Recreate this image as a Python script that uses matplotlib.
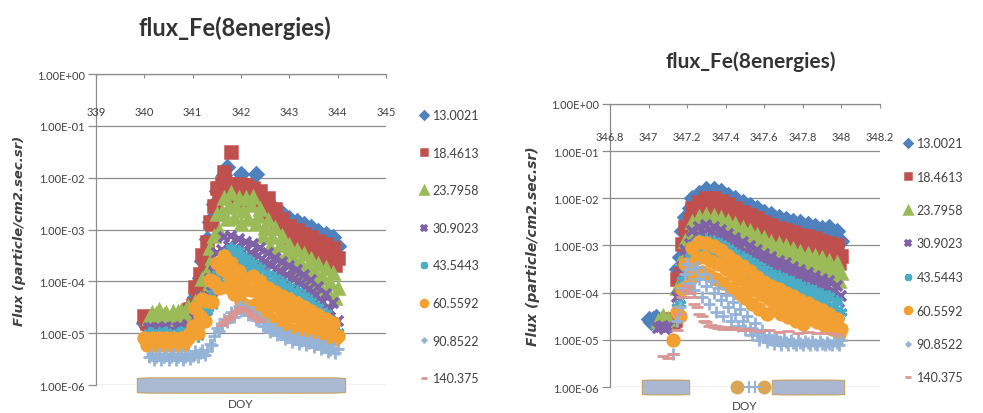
import numpy as np
import matplotlib
matplotlib.use('Agg')
import matplotlib.pyplot as plt
from matplotlib.transforms import blended_transform_factory

NA = np.nan

# energy channels shown in the legend
energies = ['13.0021', '18.4613', '23.7958', '30.9023', '43.5443', '60.5592', '90.8522', '140.375']

# ---- event 1 : DOY 340 - 344, log10 flux per channel ----
doy_left = [340.0, 340.05, 340.1, 340.15, 340.2, 340.25, 340.3, 340.35, 340.4, 340.45,
            340.5, 340.55, 340.6, 340.65, 340.7, 340.75, 340.8, 340.85, 340.9, 340.95,
            341.0, 341.05, 341.1, 341.15, 341.2, 341.25, 341.3, 341.35, 341.4, 341.45,
            341.5, 341.55, 341.6, 341.65, 341.7, 341.75, 341.8, 341.85, 341.9, 341.95,
            342.0, 342.05, 342.1, 342.15, 342.2, 342.25, 342.3, 342.35, 342.4, 342.45,
            342.5, 342.55, 342.6, 342.65, 342.7, 342.75, 342.8, 342.85, 342.9, 342.95,
            343.0, 343.05, 343.1, 343.15, 343.2, 343.25, 343.3, 343.35, 343.4, 343.45,
            343.5, 343.55, 343.6, 343.65, 343.7, 343.75, 343.8, 343.85, 343.9, 343.95,
            344.0]

left_13 = [-4.8, -4.88, -4.84, -4.83, -4.93, -4.87, -4.8, -4.88, -4.84, -4.83,
           -4.93, -4.87, -4.8, -4.88, -4.84, -4.78, -4.83, -4.76, -4.7, -4.68,
           -4.59, -4.3, -4.28, -3.94, -3.6, -3.53, -3.19, -2.85, -2.78, -2.51,
           -2.25, -2.3, -2.09, -1.95, -1.8, -2.24, -2.15, -2.33, -2.24, -2.15,
           -1.93, -2.24, -2.15, -2.38, -2.29, -2.2, -1.93, -2.39, -2.35, -2.58,
           -2.54, -2.5, -2.73, -2.67, -2.6, -2.81, -2.74, -2.68, -2.88, -2.83,
           -2.78, -2.98, -2.91, -2.84, -3.04, -2.97, -2.9, -3.1, -3.03, -2.96,
           -3.16, -3.09, -3.02, -3.22, -3.15, -3.08, -3.28, -3.21, -3.15, -3.36,
           -3.31]
left_18 = [-4.67, -4.81, -4.8, -4.78, -4.9, -4.81, -4.72, -4.85, -4.83, -4.74,
           -4.8, -4.8, -4.8, -4.88, -4.8, -4.74, -4.82, -4.69, -4.55, -4.53,
           -4.45, -4.1, -4.2, -3.85, -3.5, -3.6, -3.25, -2.85, -2.9, -2.55,
           -2.2, -2.38, -2.1, -1.9, -2.15, -2.12, -1.5, -2.4, -2.25, -2.12,
           -2.45, -2.3, -2.15, -2.48, -2.35, -2.2, -2.5, -2.37, -2.25, -2.58,
           -2.45, -2.4, -2.8, -2.7, -2.6, -2.98, -2.9, -2.8, -3.15, -3.04,
           -2.93, -3.26, -3.13, -3.0, -3.33, -3.2, -3.08, -3.4, -3.28, -3.15,
           -3.48, -3.35, -3.22, -3.54, -3.41, -3.28, -3.6, -3.48, -3.35, -3.68,
           -3.55]
left_23 = [NA, NA, -4.7, -4.62, -4.7, -4.63, -4.55, -4.68, -4.65, -4.62,
           -4.75, -4.67, -4.6, -4.68, -4.6, -4.58, -4.7, -4.6, -4.5, -4.6,
           -4.72, -4.4, -4.75, -4.34, -3.95, -4.23, -3.82, -3.35, -3.55, -3.12,
           -2.7, -3.03, -2.67, -2.4, -2.8, -2.54, -2.3, -2.77, -2.57, -2.4,
           -2.9, -2.64, -2.4, -2.8, -2.52, -2.38, -2.9, -2.74, -2.6, -3.13,
           -2.97, -2.82, -3.33, -3.15, -2.98, -3.48, -3.3, -3.13, -3.63, -3.46,
           -3.3, -3.78, -3.58, -3.39, -3.87, -3.67, -3.48, -3.96, -3.76, -3.57,
           -4.05, -3.85, -3.66, -4.14, -3.94, -3.75, -4.23, -4.03, -3.84, -4.32,
           -4.12]
left_30 = [NA, NA, -4.9, -4.9, -5.05, -4.97, -4.9, -4.98, -4.9, -4.88,
           -5.0, -4.97, -4.95, -5.0, -4.9, -4.88, -5.0, -4.93, -4.85, -4.92,
           -5.0, -4.7, -5.0, -4.65, -4.3, -4.6, -4.3, -3.95, -4.2, -3.82,
           -3.45, -3.72, -3.4, -3.15, -3.5, -3.31, -3.12, -3.53, -3.35, -3.18,
           -3.6, -3.42, -3.25, -3.65, -3.45, -3.28, -3.7, -3.52, -3.35, -3.78,
           -3.62, -3.45, -3.88, -3.71, -3.54, -3.97, -3.8, -3.62, -4.05, -3.88,
           -3.7, -4.13, -3.96, -3.79, -4.22, -4.05, -3.88, -4.32, -4.15, -3.98,
           -4.42, -4.26, -4.1, -4.55, -4.4, -4.25, -4.7, -4.56, -4.42, -4.9,
           -4.77]
left_43 = [NA, NA, -5.0, -5.0, -5.15, -5.07, -5.0, -5.08, -5.0, -4.98,
           -5.1, -5.07, -5.05, -5.1, -5.0, -4.98, -5.1, -5.03, -4.95, -5.02,
           -5.02, -4.85, -5.05, -4.82, -4.6, -4.77, -4.57, -4.32, -4.45, -4.14,
           -3.85, -3.95, -3.67, -3.48, -3.65, -3.5, -3.35, -3.63, -3.52, -3.42,
           -3.7, -3.62, -3.55, -3.83, -3.72, -3.64, -3.93, -3.84, -3.75, -4.03,
           -3.94, -3.85, -4.13, -4.03, -3.94, -4.22, -4.12, -4.02, -4.3, -4.2,
           -4.1, -4.38, -4.28, -4.19, -4.47, -4.37, -4.28, -4.57, -4.47, -4.38,
           -4.67, -4.58, -4.5, -4.79, -4.7, -4.62, -4.91, -4.83, -4.76, -5.06,
           -4.98]
left_60 = [-5.1, -5.22, -5.16, -5.1, -5.22, -5.16, -5.1, -5.22, -5.16, -5.1,
           -5.22, -5.16, -5.1, -5.22, -5.16, -5.1, -5.22, -5.16, -5.1, -5.0,
           -4.87, -4.52, -5.0, -4.67, -4.35, -4.77, -4.37, -3.98, -4.4, -4.02,
           -3.65, -4.13, -3.77, -3.52, -4.1, -3.87, -3.65, -4.25, -4.02, -3.8,
           -4.4, -4.17, -3.95, -4.47, -4.17, -3.89, -4.43, -4.21, -4.0, -4.6,
           -4.37, -4.12, -4.7, -4.45, -4.2, -4.77, -4.52, -4.28, -4.85, -4.59,
           -4.35, -4.93, -4.67, -4.42, -5.0, -4.75, -4.5, -5.05, -4.82, -4.58,
           -5.1, -4.89, -4.65, -5.12, -4.95, -4.72, -5.12, -4.98, -4.8, -5.12,
           -5.05]
left_90 = [NA, NA, -5.46, -5.4, -5.52, -5.46, -5.4, -5.52, -5.46, -5.4,
           -5.52, -5.46, -5.4, -5.52, -5.46, -5.4, -5.52, -5.46, -5.4, -5.5,
           -5.44, -5.35, -5.45, -5.39, -5.33, -5.42, -5.34, -5.2, -5.22, -5.06,
           -4.9, -4.96, -4.84, -4.72, -4.79, -4.7, -4.6, -4.68, -4.58, -4.48,
           -4.57, -4.54, -4.5, -4.65, -4.63, -4.6, -4.75, -4.73, -4.7, -4.87,
           -4.86, -4.82, -4.97, -4.94, -4.9, -5.04, -5.01, -4.98, -5.12, -5.08,
           -5.04, -5.17, -5.12, -5.07, -5.2, -5.15, -5.1, -5.23, -5.18, -5.13,
           -5.26, -5.21, -5.16, -5.3, -5.26, -5.22, -5.36, -5.32, -5.28, -5.39,
           -5.31]
left_140 = [NA, NA, NA, NA, NA, NA, NA, NA, NA, NA,
            NA, NA, NA, NA, NA, NA, NA, NA, NA, NA,
            NA, NA, NA, NA, NA, NA, NA, NA, NA, NA,
            NA, NA, -4.85, -4.78, -4.75, -4.7, -4.66, -4.62, -4.58, -4.54,
            -4.5, -4.53, -4.56, -4.6, -4.63, -4.66, -4.7, -4.73, -4.77, NA,
            NA, NA, NA, NA, NA, NA, NA, NA, NA, NA,
            NA, NA, NA, NA, NA, NA, NA, NA, NA, NA,
            NA, NA, NA, NA, NA, NA, NA, NA, NA, NA,
            NA]

# ---- event 2 : DOY 347 - 348, log10 flux per channel ----
doy_right = [347.0, 347.0125, 347.025, 347.0375, 347.05, 347.0625, 347.075, 347.0875, 347.1, 347.1125,
             347.125, 347.1375, 347.15, 347.1625, 347.175, 347.1875, 347.2, 347.2125, 347.225, 347.2375,
             347.25, 347.2625, 347.275, 347.2875, 347.3, 347.3125, 347.325, 347.3375, 347.35, 347.3625,
             347.375, 347.3875, 347.4, 347.4125, 347.425, 347.4375, 347.45, 347.4625, 347.475, 347.4875,
             347.5, 347.5125, 347.525, 347.5375, 347.55, 347.5625, 347.575, 347.5875, 347.6, 347.6125,
             347.625, 347.6375, 347.65, 347.6625, 347.675, 347.6875, 347.7, 347.7125, 347.725, 347.7375,
             347.75, 347.7625, 347.775, 347.7875, 347.8, 347.8125, 347.825, 347.8375, 347.85, 347.8625,
             347.875, 347.8875, 347.9, 347.9125, 347.925, 347.9375, 347.95, 347.9625, 347.975, 347.9875,
             348.0]

right_13 = [-4.55, -4.62, -4.55, -4.52, -4.65, NA, NA, NA, NA, NA,
            NA, NA, -3.5, -3.25, -2.7, -2.4, -2.4, -2.2, -2.0, -2.15,
            -2.0, -1.88, -2.05, -1.92, -1.8, -2.0, -1.89, -1.8, -2.0, -1.92,
            -1.85, -2.08, -2.0, -1.92, -2.15, -2.08, -2.0, -2.22, -2.15, -2.08,
            -2.3, -2.22, -2.15, -2.38, -2.3, -2.21, -2.42, -2.35, -2.28, -2.5,
            -2.42, -2.33, -2.55, -2.48, -2.4, -2.61, -2.52, -2.43, -2.65, -2.57,
            -2.48, -2.69, -2.6, -2.51, -2.72, -2.63, -2.55, -2.76, -2.67, -2.58,
            -2.8, -2.71, -2.62, -2.81, -2.7, -2.6, -2.8, -2.75, -2.7, -2.95,
            -2.9]
right_18 = [NA, NA, NA, NA, NA, NA, NA, NA, -4.6, -4.55,
            -4.62, -4.57, -3.7, -3.6, -2.97, -2.6, -2.75, -2.47, -2.2, -2.5,
            -2.27, -2.08, -2.4, -2.19, -2.0, -2.35, -2.17, -2.0, -2.35, -2.19,
            -2.05, -2.43, -2.27, -2.12, -2.5, -2.35, -2.2, -2.57, -2.42, -2.28,
            -2.65, -2.49, -2.35, -2.73, -2.57, -2.42, -2.8, -2.65, -2.5, -2.87,
            -2.72, -2.56, -2.93, -2.77, -2.62, -2.99, -2.82, -2.68, -3.05, -2.88,
            -2.72, -3.09, -2.92, -2.77, -3.13, -2.96, -2.8, -3.17, -3.0, -2.85,
            -3.21, -3.05, -2.9, -3.26, -3.09, -2.94, -3.3, -3.15, -3.0, -3.37,
            -3.22]
right_23 = [NA, NA, NA, NA, -4.6, -4.55, -4.5, -4.6, -4.55, NA,
            NA, NA, -3.9, -3.85, -3.27, -2.9, -3.05, -2.77, -2.5, -2.81,
            -2.59, -2.4, -2.73, -2.54, -2.36, -2.71, -2.53, -2.37, -2.73, -2.57,
            -2.42, -2.79, -2.63, -2.48, -2.85, -2.69, -2.55, -2.93, -2.77, -2.62,
            -3.0, -2.85, -2.7, -3.07, -2.92, -2.78, -3.15, -2.99, -2.85, -3.23,
            -3.07, -2.92, -3.28, -3.12, -2.97, -3.33, -3.17, -3.02, -3.4, -3.23,
            -3.08, -3.45, -3.29, -3.14, -3.5, -3.34, -3.18, -3.55, -3.38, -3.22,
            -3.59, -3.43, -3.27, -3.63, -3.47, -3.32, -3.68, -3.52, -3.38, -3.75,
            -3.59]
right_30 = [NA, NA, NA, NA, -4.75, -4.72, -4.7, -4.78, -4.72, NA,
            NA, NA, -4.1, -4.02, -3.46, -3.1, -3.22, -2.96, -2.7, -2.98,
            -2.78, -2.6, -2.9, -2.73, -2.57, -2.89, -2.74, -2.6, -2.94, -2.81,
            -2.67, -3.02, -2.88, -2.75, -3.1, -2.97, -2.84, -3.19, -3.06, -2.93,
            -3.28, -3.15, -3.02, -3.37, -3.24, -3.1, -3.45, -3.31, -3.18, -3.52,
            -3.39, -3.25, -3.6, -3.46, -3.32, -3.66, -3.52, -3.38, -3.72, -3.58,
            -3.45, -3.8, -3.66, -3.52, -3.86, -3.72, -3.58, -3.92, -3.78, -3.64,
            -3.98, -3.84, -3.7, -4.04, -3.9, -3.76, -4.1, -3.98, -3.85, -4.2,
            -4.08]
right_43 = [NA, NA, NA, NA, NA, NA, NA, NA, NA, NA,
            NA, NA, -4.3, -4.23, -3.74, -3.4, -3.48, -3.24, -3.0, -3.23,
            -3.04, -2.88, -3.15, -3.0, -2.86, -3.15, -3.02, -2.9, -3.2, -3.09,
            -2.97, -3.28, -3.17, -3.06, -3.37, -3.26, -3.15, -3.46, -3.35, -3.24,
            -3.55, -3.44, -3.33, -3.64, -3.53, -3.42, -3.73, -3.62, -3.5, -3.8,
            -3.69, -3.58, -3.88, -3.76, -3.65, -3.96, -3.84, -3.72, -4.02, -3.9,
            -3.78, -4.08, -3.96, -3.84, -4.14, -4.02, -3.9, -4.2, -4.08, -3.96,
            -4.26, -4.14, -4.02, -4.32, -4.2, -4.08, -4.38, -4.28, -4.18, -4.5,
            -4.41]
right_60 = [NA, NA, NA, NA, NA, NA, NA, NA, NA, NA,
            -5.0, NA, -4.4, -4.5, -3.92, -3.4, -3.85, -3.44, -3.05, -3.65,
            -3.27, -2.93, -3.57, -3.25, -2.95, -3.63, -3.32, -3.02, -3.7, -3.4,
            -3.1, -3.79, -3.5, -3.22, -3.9, -3.6, -3.32, -4.01, -3.72, -3.44,
            -4.12, -3.83, -3.55, -4.23, -3.94, -3.66, -4.35, -4.06, -3.77, -4.45,
            -4.14, -3.85, -4.37, -4.15, -3.92, -4.45, -4.22, -4.0, -4.52, -4.3,
            -4.07, -4.6, -4.37, -4.15, -4.67, -4.45, -4.22, -4.55, -4.42, -4.3,
            -4.62, -4.5, -4.37, -4.7, -4.57, -4.45, -4.77, -4.66, -4.55, -4.88,
            -4.77]
right_90 = [NA, NA, NA, NA, NA, NA, NA, NA, NA, NA,
            -5.3, NA, -4.6, -4.3, -3.9, -3.6, -3.4, -3.8, -3.5, -3.95,
            -3.45, -3.7, -4.1, -3.6, -3.85, -4.25, -3.75, -4.0, -4.4, -3.9,
            -4.15, -4.5, -4.05, -4.3, -4.6, -4.2, -4.45, -4.7, -4.35, -4.6,
            -4.8, -4.5, -4.75, -4.9, -4.65, -4.85, -5.0, -4.8, -4.95, -5.05,
            -4.9, -5.0, -5.08, -4.95, -5.02, -5.1, -4.98, -5.05, -5.1, -5.0,
            -5.06, -5.12, -5.0, -5.06, -5.12, -5.02, -5.06, -5.12, -5.02, -5.08,
            -5.12, -5.03, -5.08, -5.12, -5.04, -5.08, -5.1, -5.02, -5.06, -5.1,
            -5.0]
right_140 = [NA, NA, NA, NA, NA, NA, -5.35, NA, -5.38, NA,
             -5.3, NA, -4.8, -4.45, -4.1, -3.95, -3.85, -4.0, -4.1, -4.25,
             -4.3, -4.45, -4.5, -4.6, -4.62, -4.7, -4.68, -4.72, -4.7, -4.75,
             -4.72, -4.76, -4.73, -4.77, -4.74, -4.78, -4.75, -4.78, -4.76, -4.8,
             -4.77, NA, -4.8, NA, NA, NA, -4.82, NA, NA, NA,
             -4.8, NA, NA, NA, -4.83, NA, NA, NA, -4.82, NA,
             NA, NA, -4.85, NA, NA, NA, -4.83, NA, NA, NA,
             -4.86, NA, NA, NA, -4.85, NA, NA, NA, -4.87, NA,
             NA]

# samples with no counts, parked on the 1E-06 floor
right_floor_doy = [347.0, 347.025, 347.05, 347.075, 347.1, 347.125, 347.15, 347.175,
                   347.675, 347.7, 347.725, 347.75, 347.775, 347.8, 347.825, 347.85,
                   347.875, 347.9, 347.925, 347.95, 347.975]
right_floor_circle = [347.46, 347.6]
right_floor_plus = [347.52, 347.55]

# Excel-like marker styles per channel
colors = ['#4F81BD', '#C0504D', '#9BBB59', '#7F62A6', '#4BACC6', '#F2A032', '#95B3D7', '#D99694']
markers = ['D', 's', '^', 'x', (6, 2, 0), 'o', '+', '_']
sizes = [7.5, 8, 8.5, 7.5, 8.5, 8.5, 8, 8]
widths = [1.8, 1.8, 1.8, 2.6, 2.3, 1.8, 2.0, 2.0]

TEXT = '#404040'
GRID = '#8c8c8c'


def panel(fig, rect, doy, series, xticks, xlim, label_y):
    ax = fig.add_axes(rect)
    for vals, c, m, s, w in zip(series, colors, markers, sizes, widths):
        ax.plot(doy, 10.0 ** np.array(vals), linestyle='none', marker=m,
                markersize=s, color=c, mec=c, mew=w)

    ax.set_yscale('log')
    ax.set_ylim(1e-6, 1)
    ax.set_xlim(*xlim)
    ax.set_yticks([10.0 ** e for e in range(-6, 1)])
    ax.set_yticklabels([f'1.00E{e:+03d}' for e in range(-6, 1)])
    ax.minorticks_off()
    ax.yaxis.grid(True, color=GRID, lw=0.9)
    ax.set_axisbelow(True)
    ax.tick_params(axis='y', length=6, width=0.9, color=GRID, pad=2,
                   labelsize=8, labelcolor=TEXT)

    # horizontal axis sits on top, labels drawn a bit below it
    ax.set_xticks(xticks)
    ax.tick_params(axis='x', bottom=False, top=True, direction='in', length=3,
                   color=GRID, labelbottom=False, labeltop=False)
    trans = blended_transform_factory(ax.transData, ax.transAxes)
    for t in xticks:
        ax.text(t, label_y, f'{t:g}', transform=trans, ha='center', va='center',
                fontsize=8, color=TEXT)

    for side in ['right', 'bottom']:
        ax.spines[side].set_visible(False)
    for side in ['left', 'top']:
        ax.spines[side].set_color(GRID)
        ax.spines[side].set_linewidth(0.9)
    return ax


def floor(ax, xs, face):
    ax.plot(xs, [1e-6] * len(xs), linestyle='none', marker='s', markersize=10,
            color='#C9A35E', mec='#C9A35E', clip_on=False, zorder=3)
    ax.plot(xs, [1e-6] * len(xs), linestyle='none', marker='s', markersize=8.5,
            color=face, mec=face, clip_on=False, zorder=3)


def legend(ax, anchor, spacing):
    handles = ax.get_lines()[:8]
    lg = ax.legend(handles, energies, loc='upper left', bbox_to_anchor=anchor,
                   bbox_transform=ax.figure.transFigure, frameon=False, fontsize=9,
                   handlelength=0.7, handletextpad=0.3, labelspacing=spacing,
                   markerscale=0.6, borderaxespad=0)
    for t in lg.get_texts():
        t.set_color(TEXT)


def ylabel(ax, size):
    ax.set_ylabel('Flux (particle/cm2.sec.sr)', fontsize=size, fontweight='bold',
                  style='italic', family=['DejaVu Sans'], color=TEXT, labelpad=8)


def main():
    plt.rcParams['font.family'] = ['Lato', 'DejaVu Sans']
    fig = plt.figure(figsize=(9.83, 4.14), dpi=100)

    left = panel(fig, [0.0977, 0.0676, 0.295, 0.7512], doy_left,
                 [left_13, left_18, left_23, left_30, left_43, left_60, left_90, left_140],
                 [339, 340, 341, 342, 343, 344, 345], (339, 345), 0.88)
    floor(left, doy_left, '#A9BAD1')
    left.set_xlabel('DOY', fontsize=8.5, color=TEXT, labelpad=9)
    ylabel(left, 9.5)
    fig.text(235 / 983, 1 - 28 / 414, 'flux_Fe(8energies)', ha='center', va='center',
             fontsize=17, fontweight='bold', color='#333333')
    legend(left, (415 / 983, 1 - 105 / 414), 2.05)

    right = panel(fig, [0.6205, 0.0628, 0.2747, 0.6836], doy_right,
                  [right_13, right_18, right_23, right_30, right_43, right_60, right_90, right_140],
                  [346.8, 347.0, 347.2, 347.4, 347.6, 347.8, 348.0, 348.2], (346.8, 348.2), 0.885)
    floor(right, right_floor_doy, '#ABB7D0')
    right.plot(right_floor_circle, [1e-6] * 2, linestyle='none', marker='o', markersize=9,
               color='#D9A655', clip_on=False, zorder=3)
    right.plot(right_floor_plus, [1e-6] * 2, linestyle='none', marker='+', markersize=8,
               color='#95B3D7', mew=1.5, clip_on=False, zorder=3)
    right.set_xlabel('DOY', fontsize=8.5, color=TEXT, labelpad=9)
    ylabel(right, 10)
    fig.text(751 / 983, 1 - 62 / 414, 'flux_Fe(8energies)', ha='center', va='center',
             fontsize=15, fontweight='bold', color='#333333')
    legend(right, (899 / 983, 1 - 133 / 414), 1.72)

    fig.savefig('out.png', dpi=100)


if __name__ == "__main__":
    main()
